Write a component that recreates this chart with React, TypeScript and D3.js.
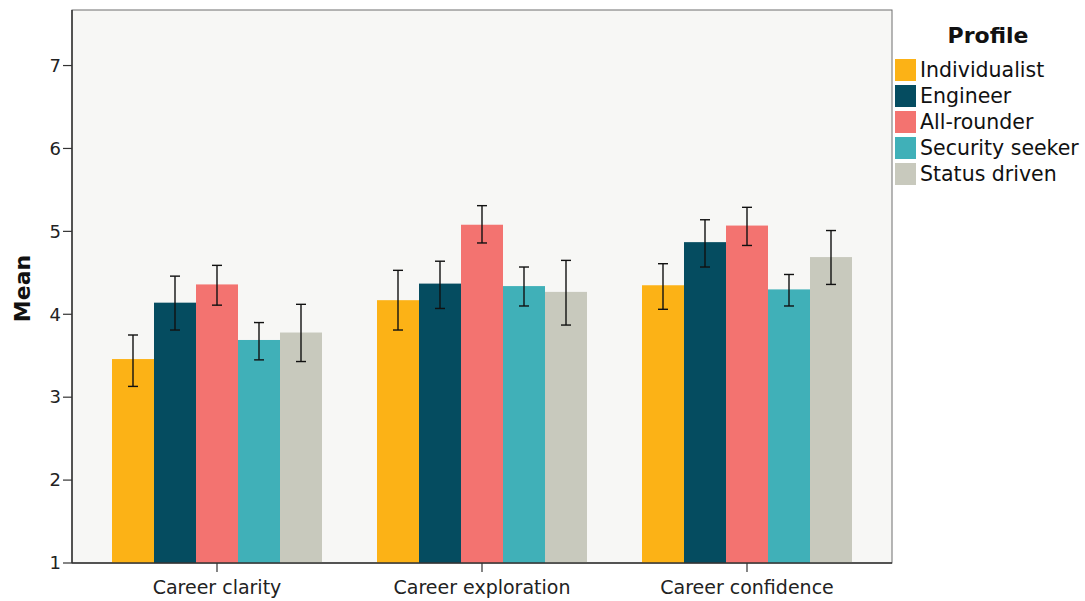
import React from "react";
import * as d3 from "d3";

const categories = ["Career clarity", "Career exploration", "Career confidence"];
const profiles = ["Individualist", "Engineer", "All-rounder", "Security seeker", "Status driven"];
const colors = ["#FCB216", "#054C60", "#F37370", "#40B0B8", "#C8C9BD"];

// Means per profile, in category order
const means: number[][] = [
  [3.46, 4.17, 4.35],
  [4.14, 4.37, 4.87],
  [4.36, 5.08, 5.07],
  [3.69, 4.34, 4.30],
  [3.78, 4.27, 4.69],
];
// Error bar bounds (lower, upper) per profile, in category order
const lower: number[][] = [
  [3.13, 3.81, 4.06],
  [3.81, 4.07, 4.57],
  [4.11, 4.86, 4.83],
  [3.45, 4.10, 4.10],
  [3.43, 3.87, 4.36],
];
const upper: number[][] = [
  [3.75, 4.53, 4.61],
  [4.46, 4.64, 5.14],
  [4.59, 5.31, 5.29],
  [3.90, 4.57, 4.48],
  [4.12, 4.65, 5.01],
];
const yTicks = [1, 2, 3, 4, 5, 6, 7];

const W = 1085;
const H = 601;
const plot = { left: 72, right: 892, top: 10, bottom: 563 };
const font = "'DejaVu Sans', sans-serif";

export default function App() {
  const y = d3.scaleLinear().domain([1, 7.67]).range([plot.bottom, plot.top]);
  const x0 = d3
    .scaleBand<string>()
    .domain(categories)
    .range([plot.left + 12.5, plot.right - 12.5])
    .paddingInner(0)
    .paddingOuter(0);
  const groupW = 210;
  const x1 = d3
    .scaleBand<string>()
    .domain(profiles)
    .range([0, groupW])
    .padding(0);

  return (
    <svg width={W} height={H} style={{ position: "absolute", left: 0, top: 0, background: "#fff" }}>
      <rect
        x={plot.left}
        y={plot.top}
        width={plot.right - plot.left}
        height={plot.bottom - plot.top}
        fill="#F7F7F5"
        stroke="#6f6f6f"
        strokeWidth={1}
      />
      {categories.map((c, ci) => {
        const gx = x0(c)! + (x0.bandwidth() - groupW) / 2;
        return (
          <g key={c}>
            {profiles.map((p, pi) => {
              const bx = gx + x1(p)!;
              const v = means[pi][ci];
              return (
                <rect
                  key={p}
                  x={bx}
                  y={y(v)}
                  width={x1.bandwidth()}
                  height={plot.bottom - y(v)}
                  fill={colors[pi]}
                />
              );
            })}
            {profiles.map((p, pi) => {
              const cx = gx + x1(p)! + x1.bandwidth() / 2;
              const lo = y(lower[pi][ci]);
              const hi = y(upper[pi][ci]);
              return (
                <g key={p + "e"} stroke="#111" strokeWidth={1.4}>
                  <line x1={cx} x2={cx} y1={lo} y2={hi} />
                  <line x1={cx - 5} x2={cx + 5} y1={lo} y2={lo} />
                  <line x1={cx - 5} x2={cx + 5} y1={hi} y2={hi} />
                </g>
              );
            })}
            <line
              x1={x0(c)! + x0.bandwidth() / 2}
              x2={x0(c)! + x0.bandwidth() / 2}
              y1={plot.bottom}
              y2={plot.bottom + 9}
              stroke="#333"
              strokeWidth={1.2}
            />
            <text
              x={x0(c)! + x0.bandwidth() / 2}
              y={plot.bottom + 31}
              textAnchor="middle"
              fontFamily={font}
              fontSize={19}
              fill="#222"
            >
              {c}
            </text>
          </g>
        );
      })}
      {/* axes */}
      <line x1={plot.left} x2={plot.left} y1={plot.top} y2={plot.bottom} stroke="#333" strokeWidth={1.5} />
      <line x1={plot.left} x2={plot.right} y1={plot.bottom} y2={plot.bottom} stroke="#333" strokeWidth={1.5} />
      {yTicks.map((t) => (
        <g key={t}>
          <line x1={plot.left - 9} x2={plot.left} y1={y(t)} y2={y(t)} stroke="#333" strokeWidth={1.2} />
          <text
            x={plot.left - 11}
            y={y(t)}
            dy="0.35em"
            textAnchor="end"
            fontFamily={font}
            fontSize={18}
            fill="#222"
          >
            {t}
          </text>
        </g>
      ))}
      <text
        transform={`translate(30,${(plot.top + plot.bottom) / 2 + 2}) rotate(-90)`}
        textAnchor="middle"
        fontFamily={font}
        fontSize={22}
        fontWeight="bold"
        fill="#111"
      >
        Mean
      </text>
      {/* legend */}
      <text x={988} y={43} textAnchor="middle" fontFamily={font} fontSize={22} fontWeight="bold" fill="#111">
        Profile
      </text>
      {profiles.map((p, i) => (
        <g key={p} transform={`translate(895,${59 + i * 26})`}>
          <rect x={0} y={0} width={21} height={22} fill={colors[i]} />
          <text x={25} y={11} dy="0.36em" fontFamily={font} fontSize={20.5} fill="#111">
            {p}
          </text>
        </g>
      ))}
    </svg>
  );
}
